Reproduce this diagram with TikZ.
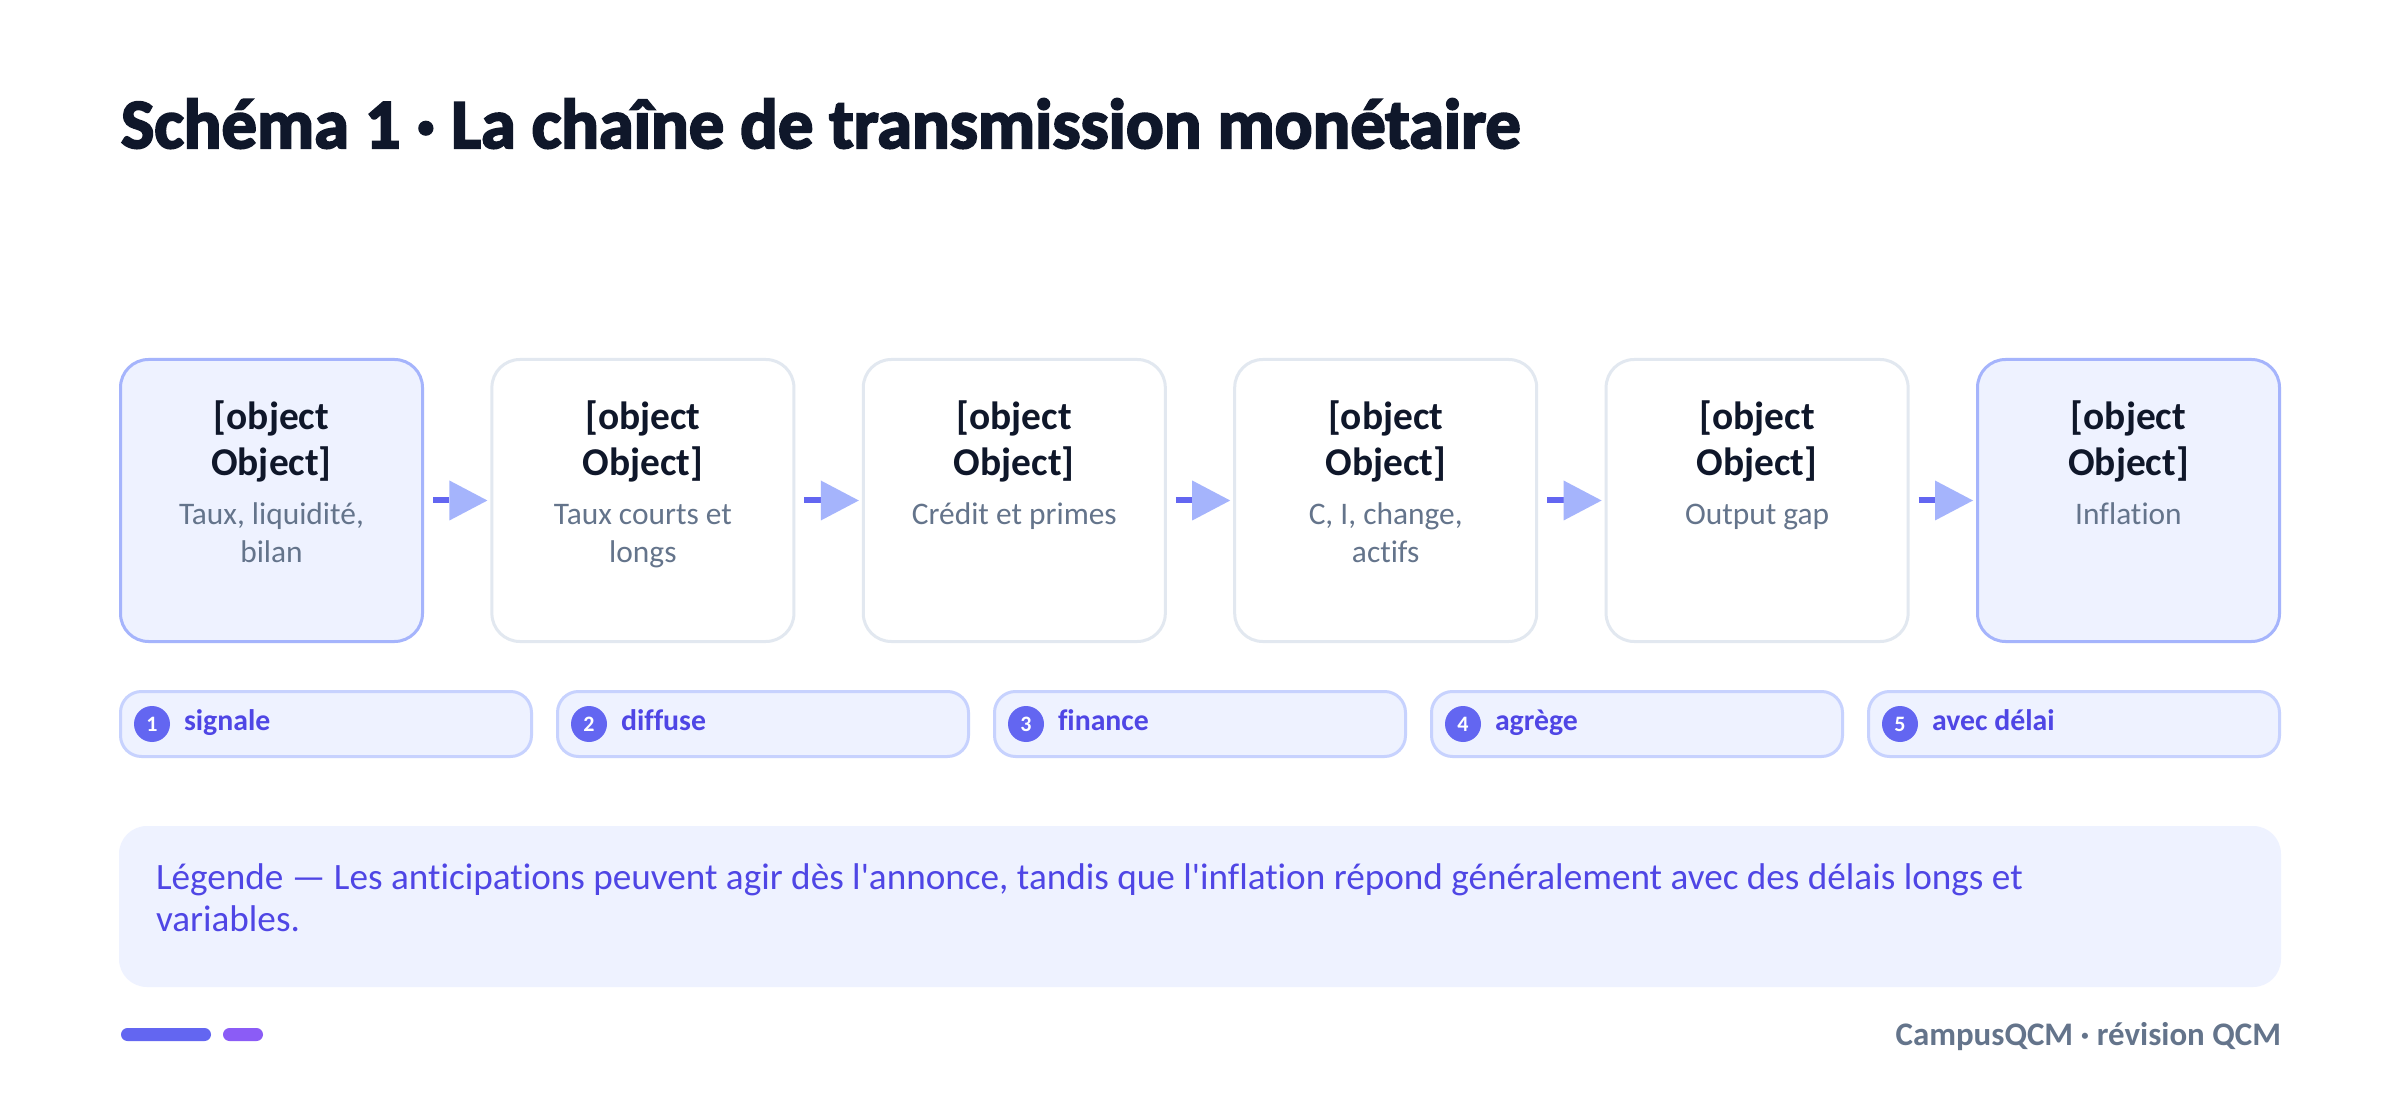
\documentclass[tikz,border=0pt]{standalone}
\usepackage{fontspec}
\setmainfont{Carlito}[Ligatures={TeXOff,NoCommon}]
\newfontfamily\titlefont{Carlito}[Ligatures={TeXOff,NoCommon},BoldFeatures={FakeBold=3}]
\usetikzlibrary{arrows.meta}
\definecolor{cInd}{HTML}{6366F1}
\definecolor{cVio}{HTML}{8B5CF6}
\definecolor{cTip}{HTML}{A5B4FC}
\definecolor{cPillB}{HTML}{C7D2FE}
\definecolor{cFill}{HTML}{EEF2FF}
\definecolor{cDark}{HTML}{0F172A}
\definecolor{cSlate}{HTML}{64748B}
\definecolor{cGray}{HTML}{E2E8F0}
\definecolor{cText}{HTML}{4F46E5}
\begin{document}
\begin{tikzpicture}[x=0.5pt,y=-0.5pt,
  txt/.style={inner sep=0pt, outer sep=0pt},
  box/.style={rounded corners=14pt, minimum width=151pt, minimum height=141pt, line width=1.5pt, inner sep=0pt},
  hot/.style={box, fill=cFill, draw=cTip},
  plain/.style={box, fill=white, draw=cGray},
  btitle/.style={txt, anchor=base, text=cDark, font=\bfseries\fontsize{19.7}{23}\selectfont},
  bsub/.style={txt, anchor=base, text=cSlate, font=\fontsize{15.7}{19}\selectfont},
  conn/.style={line width=3pt, draw=cInd, -{Triangle[length=19pt,width=20pt,color=cTip,line width=0pt]}},
  pill/.style={draw=cPillB, fill=cFill, rounded corners=10.5pt, minimum width=205.5pt, minimum height=32.5pt, line width=1.5pt, inner sep=0pt},
  num/.style={circle, fill=cInd, minimum size=18pt, inner sep=0pt, text=white, font=\bfseries\fontsize{11}{11}\selectfont},
  plab/.style={txt, anchor=base west, text=cText, font=\bfseries\fontsize{14.9}{17}\selectfont},
  legendbox/.style={fill=cFill, rounded corners=14pt, minimum width=1081pt, minimum height=80.5pt, inner sep=0pt},
  legtext/.style={txt, anchor=base west, text=cText, font=\fontsize{18.6}{22}\selectfont},
]
\useasboundingbox (0,0) rectangle (2400,1096);
\fill[white] (0,0) rectangle (2400,1096);

% title
\node[txt, anchor=base west, text=cDark, font=\titlefont\bfseries\fontsize{35.2}{40}\selectfont] (title) at (121,148) {Schéma 1 · La chaîne de transmission monétaire};

% boxes
\node[hot]   (b1) at (271.5,500.5) {};
\node[plain] (b2) at (642.9,500.5) {};
\node[plain] (b3) at (1014.3,500.5) {};
\node[plain] (b4) at (1385.7,500.5) {};
\node[plain] (b5) at (1757.1,500.5) {};
\node[hot]   (b6) at (2128.5,500.5) {};

\foreach \n/\x in {1/271.5,2/642.9,3/1014.3,4/1385.7,5/1757.1,6/2128.5}{
  \node[btitle] (t\n a) at (\x,430) {[object};
  \node[btitle] (t\n b) at (\x,476) {Object]};
}
\node[bsub] (s1a) at (271.5,524) {Taux, liquidité,};
\node[bsub] (s1b) at (271.5,563) {bilan};
\node[bsub] (s2a) at (642.9,524) {Taux courts et};
\node[bsub] (s2b) at (642.9,563) {longs};
\node[bsub] (s3a) at (1014.3,524) {Crédit et primes};
\node[bsub] (s4a) at (1385.7,524) {C, I, change,};
\node[bsub] (s4b) at (1385.7,563) {actifs};
\node[bsub] (s5a) at (1757.1,524) {Output gap};
\node[bsub] (s6a) at (2128.5,524) {Inflation};

% connectors
\draw[conn] ([xshift=4.5pt]b1.east) -- ([xshift=-1.5pt]b2.west);
\draw[conn] ([xshift=4.5pt]b2.east) -- ([xshift=-1.5pt]b3.west);
\draw[conn] ([xshift=4.5pt]b3.east) -- ([xshift=-1.5pt]b4.west);
\draw[conn] ([xshift=4.5pt]b4.east) -- ([xshift=-1.5pt]b5.west);
\draw[conn] ([xshift=4.5pt]b5.east) -- ([xshift=-1.5pt]b6.west);

% pills
\foreach \n/\x/\lab in {1/326/signale,2/763/diffuse,3/1200/finance,4/1637/agrège,5/2074/avec délai}{
  \node[pill] (p\n) at (\x,724) {};
  \node[num] (n\n) at ([xshift=16.5pt]p\n.west) {\n};
  \node[plab] (l\n) at ([xshift=32.5pt]p\n.west |- 0,730) {\lab};
}

% legend
\node[legendbox] (lg) at (1200,906.5) {};
\node[legtext] (lg1) at (156,889) {Légende — Les anticipations peuvent agir dès l'annonce, tandis que l'inflation répond généralement avec des délais longs et};
\node[legtext] (lg2) at (156,931) {variables.};

% footer
\fill[cInd, rounded corners=3.25pt] (121,1028) rectangle (211,1041);
\fill[cVio, rounded corners=3.25pt] (223,1028) rectangle (263,1041);
\node[txt, anchor=base east, text=cSlate, font=\bfseries\fontsize{16.45}{19}\selectfont] (foot) at (2281,1045) {CampusQCM · révision QCM};
\end{tikzpicture}
\end{document}
